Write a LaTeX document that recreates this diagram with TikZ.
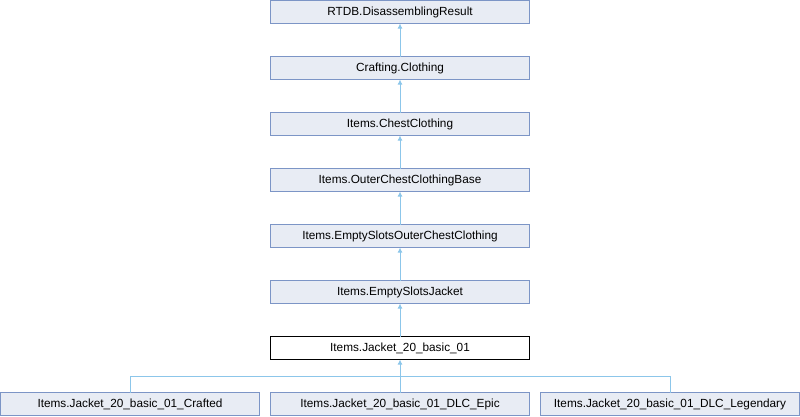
\documentclass[tikz,border=0pt]{standalone}
\usepackage{fontspec}
\setmainfont{Liberation Sans}
\usetikzlibrary{arrows.meta,positioning}

\definecolor{boxfill}{HTML}{E8ECF4}
\definecolor{boxline}{HTML}{7C95C6}
\definecolor{edgeblue}{HTML}{8CC6EA}

\begin{document}
\begin{tikzpicture}[x=1pt,y=1pt,node distance=33pt,
  cls/.style={draw=boxline,fill=boxfill,line width=1pt,outer sep=0pt,minimum width=259pt,minimum height=23pt,inner sep=0pt,font=\fontsize{11.8}{13}\selectfont},
  cur/.style={cls,draw=black,fill=white},
  inh/.style={draw=edgeblue,line width=1pt},
  up/.style={inh,-{Latex[length=5pt,width=5pt]}}]

\useasboundingbox (0,0) rectangle (800,-416);

\node[cls] (rtdb) at (400,-12) {RTDB.DisassemblingResult};
\node[cls] (craft) [below=of rtdb] {Crafting.Clothing};
\node[cls] (chest) [below=of craft] {Items.ChestClothing};
\node[cls] (outer) [below=of chest] {Items.OuterChestClothingBase};
\node[cls] (esocc) [below=of outer] {Items.EmptySlotsOuterChestClothing};
\node[cls] (esj)   [below=of esocc] {Items.EmptySlotsJacket};
\node[cur] (jk)    [below=of esj] {Items.Jacket\_20\_basic\_01};
\node[cls] (epic)  [below=of jk] {Items.Jacket\_20\_basic\_01\_DLC\_Epic};
\node[cls] (crft)  [left=11pt of epic] {Items.Jacket\_20\_basic\_01\_Crafted};
\node[cls] (leg)   [right=11pt of epic] {Items.Jacket\_20\_basic\_01\_DLC\_Legendary};

\coordinate (fork) at ([yshift=-17pt]jk.south);

% single inheritance chain
\draw[up] (craft) -- (rtdb);
\draw[up] (chest) -- (craft);
\draw[up] (outer) -- (chest);
\draw[up] (esocc) -- (outer);
\draw[up] (esj) -- (esocc);
\draw[up] (jk) -- (esj);

% derived classes
\draw[up] (fork) -- (jk);
\draw[inh] (crft.north) |- (fork) -| (leg.north);
\draw[inh] (epic.north) -- (fork);
\end{tikzpicture}
\end{document}
